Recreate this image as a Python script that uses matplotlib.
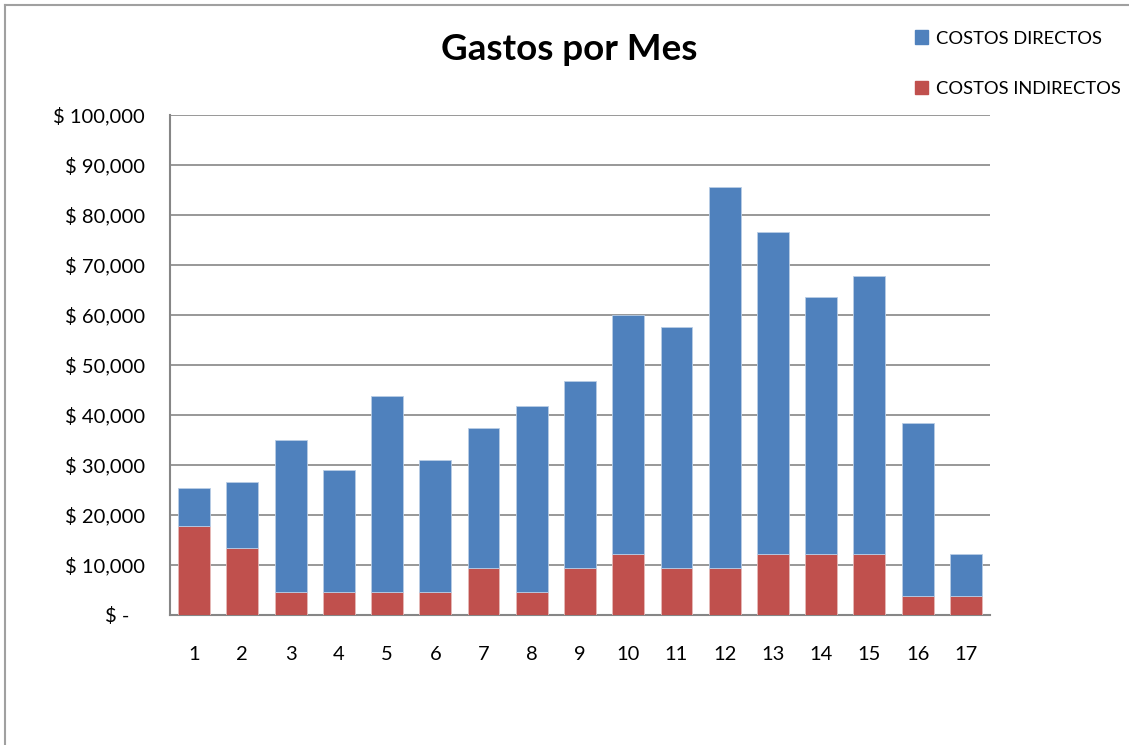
import numpy as np
import matplotlib.pyplot as plt
from matplotlib.lines import Line2D
from matplotlib.patches import Patch

plt.rcParams['font.family'] = ['Lato', 'DejaVu Sans']

meses = [str(i) for i in range(1, 18)]
# total de cada mes (altura de la barra) y costos indirectos
total = [25500, 26700, 35000, 29000, 43800, 31000, 37400, 41800, 46800,
         60000, 57600, 85600, 76600, 63600, 67800, 38400, 12200]
indirectos = [17800, 13500, 4700, 4700, 4700, 4700, 9500, 4700, 9500,
              12300, 9500, 9500, 12300, 12300, 12300, 3800, 3800]
directos = [t - i for t, i in zip(total, indirectos)]

azul = '#4F81BD'
rojo = '#C0504D'
gris = '#868686'

fig = plt.figure(figsize=(11.29, 7.45), dpi=100)
ax = fig.add_axes([170 / 1129, 1 - 615 / 745, 820 / 1129, 500 / 745])

x = np.arange(len(meses))
ax.bar(x, indirectos, width=0.66, color=rojo, edgecolor='#E6B9B8', linewidth=0.6, zorder=3)
ax.bar(x, directos, bottom=indirectos, width=0.66, color=azul, edgecolor='#B9CDE5',
       linewidth=0.6, zorder=3)

ax.set_xlim(-0.5, len(meses) - 0.5)
ax.set_ylim(0, 100000)
ax.set_xticks(x)
ax.set_xticklabels(meses, fontsize=14.5)
yt = np.arange(0, 100001, 10000)
ax.set_yticks(yt)
ax.set_yticklabels(['$ -   '] + ['$ {:,}'.format(v) for v in yt[1:]], fontsize=14.5)
ax.tick_params(axis='x', length=0, pad=22)
ax.tick_params(axis='y', length=0, pad=18)
ax.yaxis.grid(True, color=gris, linewidth=1.2, zorder=0)
for s in ['top', 'right']:
    ax.spines[s].set_visible(False)
for s in ['left', 'bottom']:
    ax.spines[s].set_color(gris)
    ax.spines[s].set_linewidth(1.5)

fig.text(569 / 1129, 1 - 49 / 745, 'Gastos por Mes', fontsize=26.5, fontweight='bold',
         ha='center', va='center')

handles = [Patch(color=azul), Patch(color=rojo)]
fig.legend(handles, ['COSTOS DIRECTOS', 'COSTOS INDIRECTOS'], loc='upper left',
           bbox_to_anchor=(898 / 1129, 1 - 14 / 745), frameon=False, fontsize=13.2,
           handlelength=0.75, handleheight=0.75, handletextpad=0.45, labelspacing=1.85)

# marco del area del grafico
fig.add_artist(Line2D([5 / 1129, 5 / 1129], [0, 1 - 5 / 745], color='#A0A0A0', linewidth=1.5))
fig.add_artist(Line2D([5 / 1129, 1], [1 - 5 / 745, 1 - 5 / 745], color='#A0A0A0', linewidth=1.5))

fig.savefig('out.png', dpi=100)
